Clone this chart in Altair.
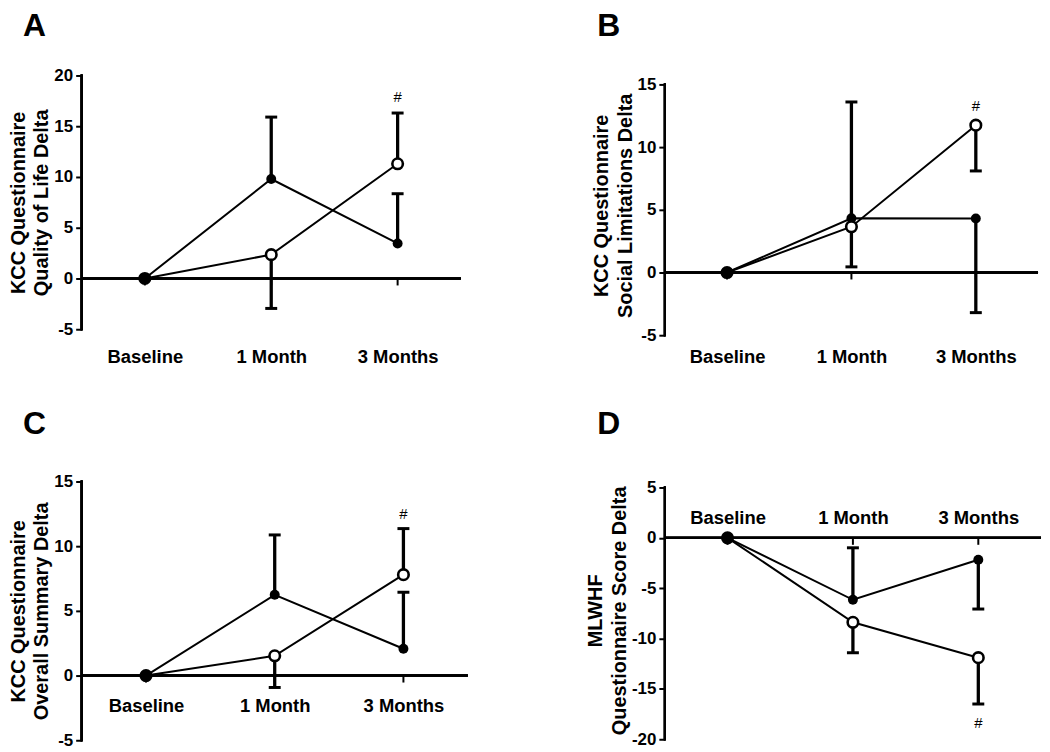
import altair as alt
import pandas as pd

FONT = "Liberation Sans"
timepoints = ["Baseline", "1 Month", "3 Months"]
t_idx = [0, 1, 2]

# Panel A - KCC Quality of Life
a_filled = [0, 9.8, 3.45]
a_filled_err = [None, 15.9, 8.35]
a_open = [0, 2.35, 11.3]
a_open_err = [None, -2.95, 16.3]
a_hash = 17.9

# Panel B - KCC Social Limitations
b_filled = [0, 4.33, 4.3]
b_filled_err = [None, 13.6, -3.2]
b_open = [0, 3.65, 11.75]
b_open_err = [None, 0.45, 8.1]
b_hash = 13.3

# Panel C - KCC Overall Summary
c_filled = [0, 6.24, 2.07]
c_filled_err = [None, 10.87, 6.44]
c_open = [0, 1.53, 7.8]
c_open_err = [None, -0.92, 11.36]
c_hash = 12.45

# Panel D - MLWHF
d_filled = [0, -6.15, -2.17]
d_filled_err = [None, -0.99, -7.07]
d_open = [0, -8.39, -11.9]
d_open_err = [None, -11.41, -16.5]
d_hash = -18.35

label_expr = "['Baseline','1 Month','3 Months'][datum.value]"


def make_df(filled, filled_err, open_, open_err):
    rows = []
    for grp, means, errs in (("filled", filled, filled_err), ("open", open_, open_err)):
        for t, m, e in zip(t_idx, means, errs):
            rows.append({"t": t, "grp": grp, "mean": m, "err": e})
    return pd.DataFrame(rows)


def panel(letter, title_lines, filled, filled_err, open_, open_err, hash_y,
          ydom, yticks, ylo, yhi, width, height, xaxis_kw, letter_dx, letter_dy):
    df = make_df(filled, filled_err, open_, open_err)
    xscale = alt.Scale(domain=[-0.5, 2.5], nice=False, zero=False)
    yscale = alt.Scale(domain=ydom, nice=False, zero=False)
    xaxis = alt.Axis(values=t_idx, labelExpr=label_expr, domain=False, ticks=False,
                     tickSize=0, grid=False, labelFont=FONT, labelFontSize=18.5,
                     labelFontWeight="bold", labelColor="black", labelBaseline="middle",
                     labelAlign="center", labelFlush=False, labelOverlap=False, title=None,
                     **xaxis_kw)
    yaxis = alt.Axis(values=yticks, labelExpr="'' + datum.value", domain=False, ticks=True,
                     tickSize=6, tickWidth=2, tickColor="black", grid=False,
                     labelFont=FONT, labelFontSize=17, labelFontWeight="bold",
                     labelColor="black", labelPadding=3,
                     title=title_lines, titleFont=FONT, titleFontSize=20,
                     titleFontWeight="bold", titleColor="black", titleLineHeight=24,
                     titlePadding=2)

    def X(field="t:Q"):
        return alt.X(field, scale=xscale, axis=xaxis)

    def Y(field):
        return alt.Y(field, scale=yscale, axis=yaxis)

    base = alt.Chart(df)

    zero_line = base.mark_rule(color="black", strokeWidth=2).encode(
        x=alt.XDatum(-0.5, type="quantitative", scale=xscale, axis=xaxis),
        x2=alt.X2Datum(2.5),
        y=alt.YDatum(0, type="quantitative", scale=yscale, axis=yaxis),
    )
    y_line = base.mark_rule(color="black", strokeWidth=2, strokeCap="square").encode(
        x=alt.XDatum(-0.5, type="quantitative", scale=xscale, axis=xaxis),
        y=alt.YDatum(ylo, type="quantitative", scale=yscale, axis=yaxis),
        y2=alt.Y2Datum(yhi),
    )
    xticks = base.transform_filter(alt.datum.grp == "filled").mark_tick(
        orient="vertical", size=7, thickness=2, color="black", yOffset=3.5, opacity=1
    ).encode(
        x=X(),
        y=alt.YDatum(0, type="quantitative", scale=yscale, axis=yaxis),
    )
    ebars = base.transform_filter("isValid(datum.err)").mark_rule(
        color="black", strokeWidth=3.3
    ).encode(x=X(), y=Y("mean:Q"), y2="err:Q")
    caps = base.transform_filter("isValid(datum.err)").mark_tick(
        orient="horizontal", size=12, thickness=3, color="black", opacity=1
    ).encode(x=X(), y=Y("err:Q"))
    lines = base.mark_line(color="black", strokeWidth=2).encode(
        x=X(), y=Y("mean:Q"), detail="grp:N"
    )
    filled_pts = base.transform_filter(alt.datum.grp == "filled").mark_point(
        shape="circle", filled=True, color="black", size=100, opacity=1
    ).encode(x=X(), y=Y("mean:Q"))
    open_pts = base.transform_filter(alt.datum.grp == "open").mark_point(
        shape="circle", filled=True, stroke="black", strokeWidth=2.6, size=112, opacity=1
    ).encode(
        x=X(), y=Y("mean:Q"),
        fill=alt.condition(alt.datum.t == 0, alt.value("black"), alt.value("white")),
    )
    hash_df = pd.DataFrame({"t": [2], "y": [hash_y], "s": ["#"]})
    hashes = alt.Chart(hash_df).mark_text(
        font=FONT, fontSize=15, color="black", baseline="middle", align="center"
    ).encode(x=X(), y=Y("y:Q"), text="s:N")
    letter_df = pd.DataFrame({"s": [letter]})
    letter_mark = alt.Chart(letter_df).mark_text(
        font=FONT, fontSize=32, fontWeight="bold", color="black",
        align="left", baseline="top"
    ).encode(x=alt.value(letter_dx), y=alt.value(letter_dy), text="s:N")

    return alt.layer(
        zero_line, y_line, xticks, ebars, caps, lines, filled_pts, open_pts, hashes,
        letter_mark
    ).properties(width=width, height=height)


A = panel("A", ["KCC Questionnaire", "Quality of Life Delta"],
          a_filled, a_filled_err, a_open, a_open_err, a_hash,
          [-5, 20], [-5, 0, 5, 10, 15, 20], -5, 20, 381, 255,
          dict(orient="bottom", offset=0, labelPadding=27), -59, -65)
B = panel("B", ["KCC Questionnaire", "Social Limitations Delta"],
          b_filled, b_filled_err, b_open, b_open_err, b_hash,
          [-5, 15.714], [-5, 0, 5, 10, 15], -5, 15, 375, 261,
          dict(orient="bottom", offset=0, labelPadding=21), -68, -65)
C = panel("C", ["KCC Questionnaire", "Overall Summary Delta"],
          c_filled, c_filled_err, c_open, c_open_err, c_hash,
          [-5, 15], [-5, 0, 5, 10, 15], -5, 15, 388, 260,
          dict(orient="bottom", offset=-35, labelPadding=0), -59, -73)
D = panel("D", ["MLWHF", "Questionnaire Score Delta"],
          d_filled, d_filled_err, d_open, d_open_err, d_hash,
          [-20, 5.593], [-20, -15, -10, -5, 0, 5], -20, 5, 378, 259,
          dict(orient="top", offset=-36, labelPadding=0), -68, -73)

chart = alt.concat(A, B, C, D, columns=2, spacing={"row": 147, "column": 198},
                   bounds="flush").properties(
    padding={"left": 0, "top": 0, "right": 0, "bottom": 0},
    background="white",
).configure_view(stroke=None)

chart.save("out.html", embed_options={"renderer": "svg", "actions": False})
